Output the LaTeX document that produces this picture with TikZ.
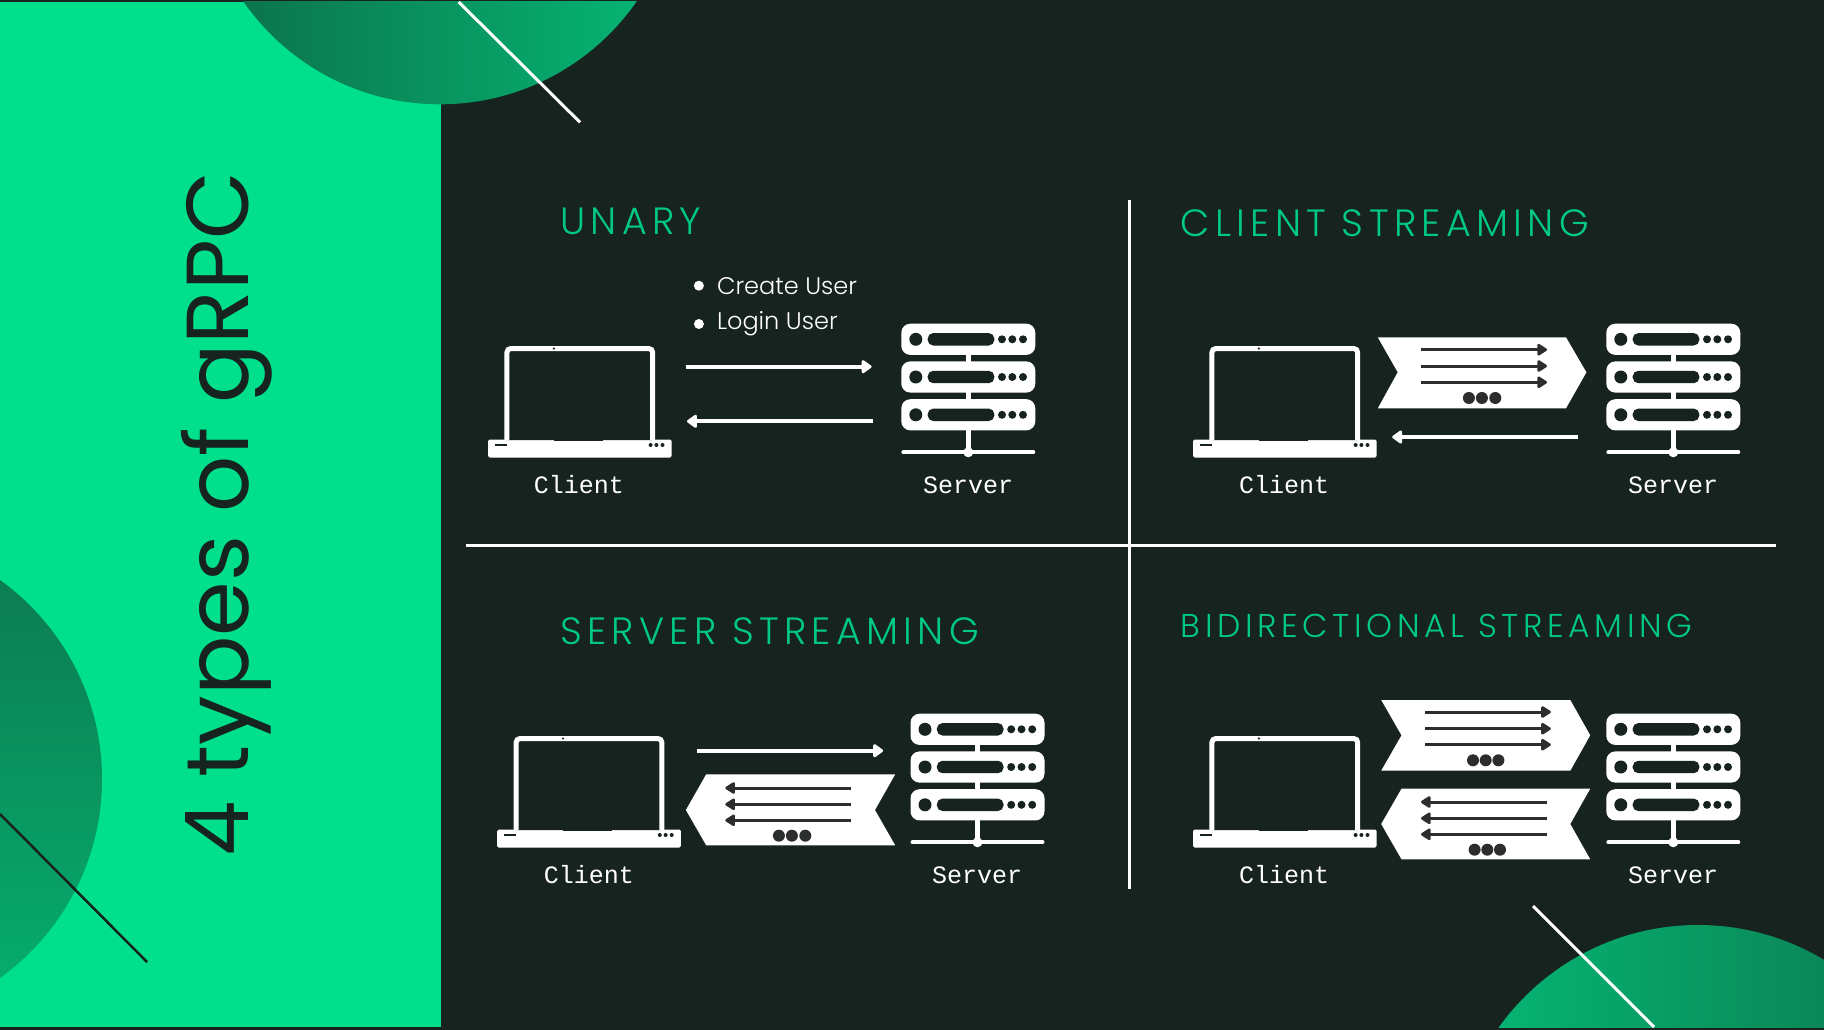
\documentclass[tikz,border=0pt]{standalone}
\usepackage{fontspec}
\usetikzlibrary{arrows.meta}
\setmainfont{Poppins}
\newfontfamily\ttl[LetterSpace=14]{Poppins Light}
\newfontfamily\bodyf{Poppins Light}
\newfontfamily\headf{Poppins}
\newfontfamily\monof{Liberation Mono}
\definecolor{bgdark}{HTML}{17231F}
\definecolor{panel}{HTML}{00DF8B}
\definecolor{titlegreen}{HTML}{00C985}
\definecolor{ink}{HTML}{2B2E2D}
\tikzset{
 x=1pt,y=-1pt,
 ttlnode/.style={text=titlegreen,inner sep=0,anchor=west,font=\ttl\fontsize{38}{38}\selectfont},
 lab/.style={text=white,inner sep=0,font=\monof\fontsize{25}{25}\selectfont},
 listitem/.style={text=white,inner sep=0,anchor=west,font=\bodyf\fontsize{24}{24}\selectfont},
 wirerule/.style={white,line width=3pt},
 flow/.style={draw=white,line width=4pt,-{Triangle[length=11pt,width=15pt,round]},shorten >=1pt},
 pack/.style={draw=ink,line width=3pt,-{Triangle[length=11pt,width=13pt,round]}},
 chev/.style={fill=white,draw=none},
 laptop/.pic={
  \fill[white,rounded corners=1.5] (0,-9.4) -- (183.7,-9.4) -- (183.7,8.5) -- (0,8.5) -- cycle;
  \draw[white,line width=5pt,rounded corners=4,fill=bgdark] (18.9,-9) -- (18.9,-100.5) -- (164.7,-100.5) -- (164.7,-9);
  \fill[bgdark] (65.8,-9.9) rectangle (114.8,-8.4);
  \fill[ink] (66.8,-3.2) ;
  \fill[bgdark] (7,-4.9) rectangle (19,-2.9);
  \fill[bgdark] (162.6,-4) circle[radius=2] (168.4,-4) circle[radius=2] (174.5,-4) circle[radius=2];
  \fill[bgdark] (65.8,-100) circle[radius=0] ;
  \fill[bgdark] (65.8,-100.5) circle[radius=1.2];
 },
 srvrow/.pic={
  \fill[white,rounded corners=9] (-67,-15.6) rectangle (67,15.6);
  \fill[bgdark] (-52.5,0) circle[radius=6.5];
  \fill[bgdark,rounded corners=5.5] (-40.6,-6.2) rectangle (26,6.2);
  \fill[bgdark] (33.7,0) circle[radius=4] (44,0) circle[radius=4] (54.7,0) circle[radius=4];
 },
 serverstack/.pic={
  \fill[white] (-2.5,-113) rectangle (2.5,0);
  \pic at (0,-113) {srvrow};
  \pic at (0,-75.3) {srvrow};
  \pic at (0,-37.5) {srvrow};
  \draw[white,line width=4pt,line cap=round] (-65,0) -- (65,0);
  \fill[white] (0,0) circle[radius=5];
 },
}
\newcommand{\dotsrow}[4]{\fill[ink] (#1,#4) circle[radius=6] (#2,#4) circle[radius=6] (#3,#4) circle[radius=6];}
\begin{document}
\begin{tikzpicture}
\useasboundingbox (0,0) rectangle (1824,1030);
\fill[bgdark] (0,0) rectangle (1824,1030);
\fill[panel] (0,2) rectangle (440.5,1027);
% top circle
\begin{scope}
 \clip (0,2) rectangle (1824,1030);
 \shade[left color=black!10!panel!45!bgdark,right color=panel!80!bgdark] (440,-135) circle[radius=239.3];
\end{scope}
\draw[white,line width=3pt] (458.7,2) -- (580,122.3);
% bottom left
\begin{scope}
 \clip (0,2) rectangle (1824,1027);
 \shade[top color=panel!45!bgdark,bottom color=panel!75!bgdark] (-143,779) circle[radius=245];
\end{scope}
\draw[bgdark,line width=2.5pt] (0,814) -- (147,962);
% bottom right
\begin{scope}
 \clip (0,2) rectangle (1824,1027);
 \shade[left color=panel!80!bgdark,right color=panel!45!bgdark] (1698,1170) circle[radius=245];
\end{scope}
\draw[white,line width=3pt] (1533,906) -- (1654,1027);
% title
\node[text=bgdark,inner sep=0,rotate=90,anchor=base,font=\headf\fontsize{88}{88}\selectfont] (maintitle) at (248,514) {4 types of gRPC};
% dividers
\coordinate (vt) at (1129,200); \coordinate (vb) at (1129,888.5);
\coordinate (hl) at (466,545.5); \coordinate (hr) at (1776,545.5);
\draw[wirerule] (vt) -- (vb);
\draw[wirerule] (hl) -- (hr);
% headings
\node[ttlnode] (t1) at (560,221) {UNARY};
\node[ttlnode] (t2) at (1180.5,223) {CLIENT STREAMING};
\node[ttlnode] (t3) at (560,631.5) {SERVER STREAMING};
\node[ttlnode,font=\ttl\fontsize{33}{33}\selectfont] (t4) at (1180.5,626) {BIDIRECTIONAL STREAMING};
% unary
\pic at (488,449) {laptop};
\pic at (968.3,452.3) {serverstack};
\node[lab] (c1) at (579,485) {Client};
\node[lab] (s1) at (968,485) {Server};
\fill[white] (698.9,285.7) circle[radius=5] (698.9,324) circle[radius=5];
\node[listitem] (li1) at (716.8,285.7) {Create User};
\node[listitem] (li2) at (716.8,324) {Login User};
\coordinate (u1a) at (685.5,366.7); \coordinate (u1b) at (872.6,366.7);
\coordinate (u2a) at (872.6,421.3); \coordinate (u2b) at (686,421.3);
\draw[flow] (u1a) -- (u1b);
\draw[flow] (u2a) -- (u2b);
% client streaming
\pic at (1193,449) {laptop};
\pic at (1673.3,452.3) {serverstack};
\node[lab] (c2) at (1284,485) {Client};
\node[lab] (s2) at (1673,485) {Server};
\fill[chev] (1377.8,337.3) -- (1566,337.3) -- (1586.4,372.3) -- (1566,408.3) -- (1377.8,408.3) -- (1397.7,372.3) -- cycle;
\foreach \yy in {349.7,366,382.3} \draw[pack] (1421.4,\yy) -- (1547,\yy);
\dotsrow{1468.9}{1481.9}{1495.3}{398}
\coordinate (c2a) at (1578,437); \coordinate (c2b) at (1391.2,437);
\draw[flow] (c2a) -- (c2b);
% server streaming
\pic at (497.2,839) {laptop};
\pic at (977.5,842.3) {serverstack};
\node[lab] (c3) at (589,875) {Client};
\node[lab] (s3) at (977,875) {Server};
\coordinate (s3a) at (696.6,750.7); \coordinate (s3b) at (884.1,750.7);
\draw[flow] (s3a) -- (s3b);
\fill[chev] (685.9,810) -- (706.2,774.3) -- (895.2,774.3) -- (875,810) -- (895.2,845.3) -- (706.2,845.3) -- cycle;
\foreach \yy in {788,804.3,820.3} \draw[pack] (851.2,\yy) -- (725.3,\yy);
\dotsrow{778.9}{791.9}{805.3}{835.7}
% bidirectional
\pic at (1193,839) {laptop};
\pic at (1673.3,842.3) {serverstack};
\node[lab] (c4) at (1284,875) {Client};
\node[lab] (s4) at (1673,875) {Server};
\fill[chev] (1381.2,700) -- (1570.3,700) -- (1590.2,735.3) -- (1570.3,770.7) -- (1381.2,770.7) -- (1401.5,735.3) -- cycle;
\foreach \yy in {712,728.7,744.7} \draw[pack] (1424.9,\yy) -- (1550.8,\yy);
\dotsrow{1473}{1485.7}{1498.4}{760.3}
\fill[chev] (1381.2,824) -- (1401.5,788.7) -- (1590.2,788.7) -- (1570.3,824) -- (1590.2,859.3) -- (1401.5,859.3) -- cycle;
\foreach \yy in {802,818.3,834.3} \draw[pack] (1546.6,\yy) -- (1421,\yy);
\dotsrow{1474.6}{1487.3}{1500}{849.7}
\end{tikzpicture}
\end{document}
